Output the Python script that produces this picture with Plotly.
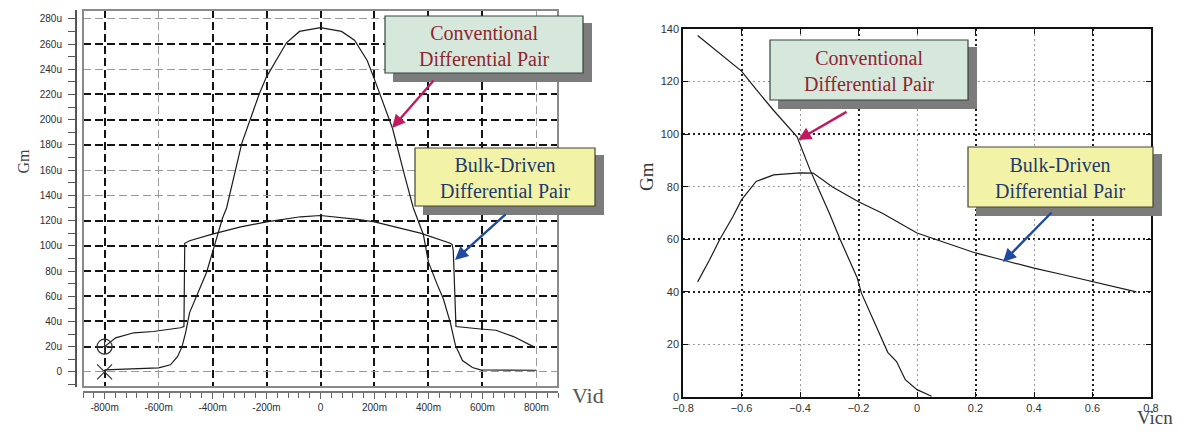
import plotly.graph_objects as go

W, H = 1193, 435

# ---------------- Left chart data (Vid in mV, Gm in uA/V) ----------------
vid_conv = [-800, -700, -600, -556, -530, -513, -500, -485, -459, -422, -400, -363, -348,
            -292, -226, -200, -126, -78, 0, 78, 126, 173, 200, 230, 267, 310, 344, 381,
            400, 433, 455, 481, 500, 526, 563, 593, 700, 800]
gm_conv = [1.6, 2.2, 3.2, 5.6, 12, 20, 31, 47, 60, 79, 95, 122, 130,
           181, 221, 234, 261, 270, 273, 270, 263, 247, 232, 214, 193, 157, 130, 109,
           87, 69, 58, 39, 21, 9, 3.5, 1.6, 1.5, 1.3]

vid_bulk = [-800, -759, -692, -619, -519, -506, -503, -485, -404, -296, -200, -74, 0,
            137, 200, 300, 370, 481, 488, 492, 497, 502, 593, 650, 715, 760, 789]
gm_bulk = [20, 27, 31, 32, 35, 36, 102, 104, 109, 115, 119, 123, 124,
           121, 119, 114, 110, 102, 101, 96, 60, 36, 34, 33, 28, 23, 20]

cursor_x = [-800, -800]
cursor_y = [20, 0]
cursor_sym = ["circle-cross-open", "x-thin-open"]

left_xticks = [-800, -600, -400, -200, 0, 200, 400, 600, 800]
left_xtext = ["-800m", "-600m", "-400m", "-200m", "0", "200m", "400m", "600m", "800m"]
left_yticks = [0, 20, 40, 60, 80, 100, 120, 140, 160, 180, 200, 220, 240, 260, 280]
left_ytext = ["0", "20u", "40u", "60u", "80u", "100u", "120u", "140u", "160u", "180u",
              "200u", "220u", "240u", "260u", "280u"]
# grid lines: dark ones and faint ones
left_xgrid_dark = [-800, -400, -200, 0, 200, 400, 600]
left_xgrid_light = [-600, 800]
left_ygrid_dark = [20, 40, 60, 80, 100, 120, 180, 200, 220, 260]
left_ygrid_light = [0, 140, 160, 240, 280]

# ---------------- Right chart data (Vicn in V, Gm) ----------------
vicn_conv = [-0.75, -0.7, -0.6, -0.55, -0.49, -0.41, -0.366, -0.33, -0.3, -0.263, -0.205,
             -0.19, -0.16, -0.12, -0.1, -0.07, -0.04, 0.0, 0.05]
gm_conv_r = [137.5, 133, 124, 117, 109, 99, 86.5, 77.5, 70, 60, 45.5,
             39.5, 32, 22, 17, 13.5, 6.6, 2.8, 0.3]

vicn_bulk = [-0.75, -0.71, -0.674, -0.63, -0.6, -0.55, -0.49, -0.4, -0.355, -0.29, -0.2,
             -0.12, 0.0, 0.1, 0.2, 0.29, 0.4, 0.5, 0.6, 0.75]
gm_bulk_r = [43.8, 52, 60, 68.5, 75, 82, 84.5, 85.3, 85.2, 80, 74.3,
             70, 62.4, 58.5, 54.8, 52.2, 49, 46.5, 43.8, 40]

right_xgrid_dark = [-0.6, -0.2, 0.2, 0.6]
right_xgrid_light = [-0.4, 0.0, 0.4]
right_ygrid_dark = [40, 60, 100]
right_ygrid_light = [20, 80, 120]

label_conv = "Conventional<br>Differential Pair"
label_bulk = "Bulk-Driven<br>Differential Pair"


def px(x):
    return x / W


def py(y):
    return 1 - y / H


fig = go.Figure()

# invisible carriers so that the grid-only overlay axes are rendered
for xa, ya, xs, ys in [("x3", "y3", vid_conv, gm_conv), ("x4", "y4", vid_conv, gm_conv),
                       ("x5", "y5", vicn_conv, gm_conv_r), ("x6", "y6", vicn_conv, gm_conv_r)]:
    fig.add_trace(go.Scatter(x=xs, y=ys, mode="lines", line=dict(width=0, color="rgba(0,0,0,0)"),
                             xaxis=xa, yaxis=ya, showlegend=False, hoverinfo="skip"))

line_style = dict(color="#1c1c1c", width=1.2)
fig.add_trace(go.Scatter(x=vid_conv, y=gm_conv, mode="lines", line=line_style,
                         xaxis="x", yaxis="y", showlegend=False))
fig.add_trace(go.Scatter(x=vid_bulk, y=gm_bulk, mode="lines", line=line_style,
                         xaxis="x", yaxis="y", showlegend=False))
fig.add_trace(go.Scatter(x=cursor_x, y=cursor_y, mode="markers",
                         marker=dict(symbol=cursor_sym, size=15, color="#333",
                                     line=dict(color="#333", width=1.2)),
                         xaxis="x", yaxis="y", showlegend=False, cliponaxis=False))
fig.add_trace(go.Scatter(x=vicn_conv, y=gm_conv_r, mode="lines", line=line_style,
                         xaxis="x2", yaxis="y2", showlegend=False))
fig.add_trace(go.Scatter(x=vicn_bulk, y=gm_bulk_r, mode="lines", line=line_style,
                         xaxis="x2", yaxis="y2", showlegend=False))

tickfont_l = dict(family="Liberation Sans", size=10, color="#2e2e2e")
tickfont_r = dict(family="Liberation Sans", size=11, color="#333")

LX = [px(83), px(558)]
LY = [(H - 387) / H, (H - 10) / H]
LXR = [-880, 880]
LYR = [-12, 287]
RX = [px(683), px(1151)]
RY = [(H - 397) / H, (H - 29) / H]
RXR = [-0.8, 0.8]
RYR = [0, 140]


def grid_axis(domain, rng, over, vals, color, dash, width, anchor):
    return dict(domain=domain, range=rng, overlaying=over, anchor=anchor,
                tickmode="array", tickvals=vals, showticklabels=False, ticks="",
                showline=False, zeroline=False, automargin=False,
                showgrid=True, gridcolor=color, griddash=dash, gridwidth=width)


fig.update_layout(
    width=W, height=H, margin=dict(l=0, r=0, t=0, b=0, pad=0, autoexpand=False),
    paper_bgcolor="white", plot_bgcolor="white", showlegend=False,
    xaxis=dict(domain=LX, range=LXR, anchor="free",
               position=(H - 392) / H, automargin=False,
               tickvals=left_xticks, ticktext=left_xtext, tickfont=tickfont_l,
               ticks="outside", ticklen=6, tickcolor="#666", tickwidth=1.2,
               minor=dict(dtick=40, tick0=0, ticks="outside", ticklen=5, tickcolor="#666",
                          showgrid=False),
               showline=True, linecolor="#777", linewidth=1.5,
               showgrid=False, zeroline=False),
    yaxis=dict(domain=LY, range=LYR, anchor="free",
               position=px(76), side="left", automargin=False,
               tickvals=left_yticks, ticktext=left_ytext, tickfont=tickfont_l,
               ticks="outside", ticklen=7, tickcolor="#555", tickwidth=1.2,
               ticklabelstandoff=4,
               minor=dict(dtick=10, tick0=0, ticks="outside", ticklen=7, tickcolor="#555",
                          showgrid=False),
               showline=True, linecolor="#555", linewidth=2,
               showgrid=False, zeroline=False),
    xaxis2=dict(domain=RX, range=RXR, anchor="y2",
                automargin=False,
                dtick=0.2, tick0=0, tickfont=tickfont_r,
                ticks="inside", ticklen=5, tickcolor="#111", mirror="ticks",
                showline=True, linecolor="#111", linewidth=1.5,
                showgrid=False, zeroline=False),
    yaxis2=dict(domain=RY, range=RYR, anchor="x2",
                automargin=False,
                dtick=20, tick0=0, tickfont=tickfont_r,
                ticks="inside", ticklen=5, tickcolor="#111", mirror="ticks",
                showline=True, linecolor="#111", linewidth=1.5,
                showgrid=False, zeroline=False),
    # grid-only overlay axes
    xaxis3=grid_axis(LX, LXR, "x", left_xgrid_dark, "#141414", "8px,4px", 1.9, "y3"),
    yaxis3=grid_axis(LY, LYR, "y", left_ygrid_dark, "#141414", "8px,4px", 1.9, "x3"),
    xaxis4=grid_axis(LX, LXR, "x", left_xgrid_light, "#9a9a9a", "8px,4px", 1.4, "y4"),
    yaxis4=grid_axis(LY, LYR, "y", left_ygrid_light, "#9a9a9a", "8px,4px", 1.4, "x4"),
    xaxis5=grid_axis(RX, RXR, "x2", right_xgrid_dark, "#222", "2px,3px", 1.7, "y5"),
    yaxis5=grid_axis(RY, RYR, "y2", right_ygrid_dark, "#222", "2px,3px", 1.7, "x5"),
    xaxis6=grid_axis(RX, RXR, "x2", right_xgrid_light, "#9a9a9a", "2px,3px", 1.3, "y6"),
    yaxis6=grid_axis(RY, RYR, "y2", right_ygrid_light, "#9a9a9a", "2px,3px", 1.3, "x6"),
)

shapes = [
    # left plot frame
    dict(type="rect", xref="x domain", yref="y domain", x0=0, x1=1, y0=0, y1=1,
         line=dict(color="#8a8a8a", width=2), layer="above"),
]


def box(x0, y0, x1, y1, fill, border):
    sh = dict(type="rect", xref="paper", yref="paper",
              x0=px(x0 + 8), x1=px(x1 + 9), y0=py(y1 + 9), y1=py(y0 + 7),
              fillcolor="#7c7c7c", line=dict(width=0), layer="above")
    bx = dict(type="rect", xref="paper", yref="paper",
              x0=px(x0), x1=px(x1), y0=py(y1), y1=py(y0),
              fillcolor=fill, line=dict(color=border, width=1.2), layer="above")
    return [sh, bx]


conv_fill, conv_text, conv_arrow = "#d6e8dc", "#8e2632", "#c21a5e"
bulk_fill, bulk_text, bulk_arrow = "#f3f3a8", "#1f3a6e", "#1f4aa0"

shapes += box(385, 16, 583, 73, conv_fill, "#33443f")
shapes += box(415, 148, 595, 206, bulk_fill, "#444433")
shapes += box(770, 40, 968, 100, conv_fill, "#33443f")
shapes += box(968, 147, 1153, 207, bulk_fill, "#444433")
fig.update_layout(shapes=shapes)

serif = "Liberation Serif"
anns = []


def text_ann(cx, cy, txt, color, size):
    return dict(xref="paper", yref="paper", x=px(cx), y=py(cy), text=txt, showarrow=False,
                font=dict(family=serif, size=size, color=color), xanchor="center",
                yanchor="middle", align="center")


def arrow_ann(tx, ty, hx, hy, color):
    return dict(xref="paper", yref="paper", x=px(hx), y=py(hy), text="", showarrow=True,
                ax=tx - hx, ay=ty - hy, arrowhead=2, arrowsize=1.1, arrowwidth=2.4,
                arrowcolor=color, standoff=0, startstandoff=0)


anns.append(text_ann(484, 46, label_conv, conv_text, 20))
anns.append(text_ann(505, 178, label_bulk, bulk_text, 20))
anns.append(text_ann(869, 71, label_conv, conv_text, 20))
anns.append(text_ann(1060, 178, label_bulk, bulk_text, 20))
anns.append(arrow_ann(435, 79, 392, 128, conv_arrow))
anns.append(arrow_ann(507, 213, 455, 260, bulk_arrow))
anns.append(arrow_ann(848, 111, 798, 140, conv_arrow))
anns.append(arrow_ann(1053, 211, 1003, 262, bulk_arrow))

# axis titles
anns.append(dict(xref="paper", yref="paper", x=px(13), y=py(161), text="Gm", showarrow=False,
                 textangle=-90, font=dict(family=serif, size=16, color="#444")))
anns.append(dict(xref="paper", yref="paper", x=px(647), y=py(177), text="Gm", showarrow=False,
                 textangle=-90, font=dict(family=serif, size=19, color="#333")))
anns.append(dict(xref="paper", yref="paper", x=px(588), y=py(410), text="Vid", showarrow=False,
                 font=dict(family=serif, size=22, color="#555")))
anns.append(dict(xref="paper", yref="paper", x=px(1175), y=py(430), text="Vicn", showarrow=False,
                 font=dict(family=serif, size=19, color="#444")))
fig.update_layout(annotations=anns)

fig.write_html("out.html", config={"displayModeBar": False},
               post_script="document.body.style.margin='0px';"
                           "document.body.style.overflow='hidden';")
